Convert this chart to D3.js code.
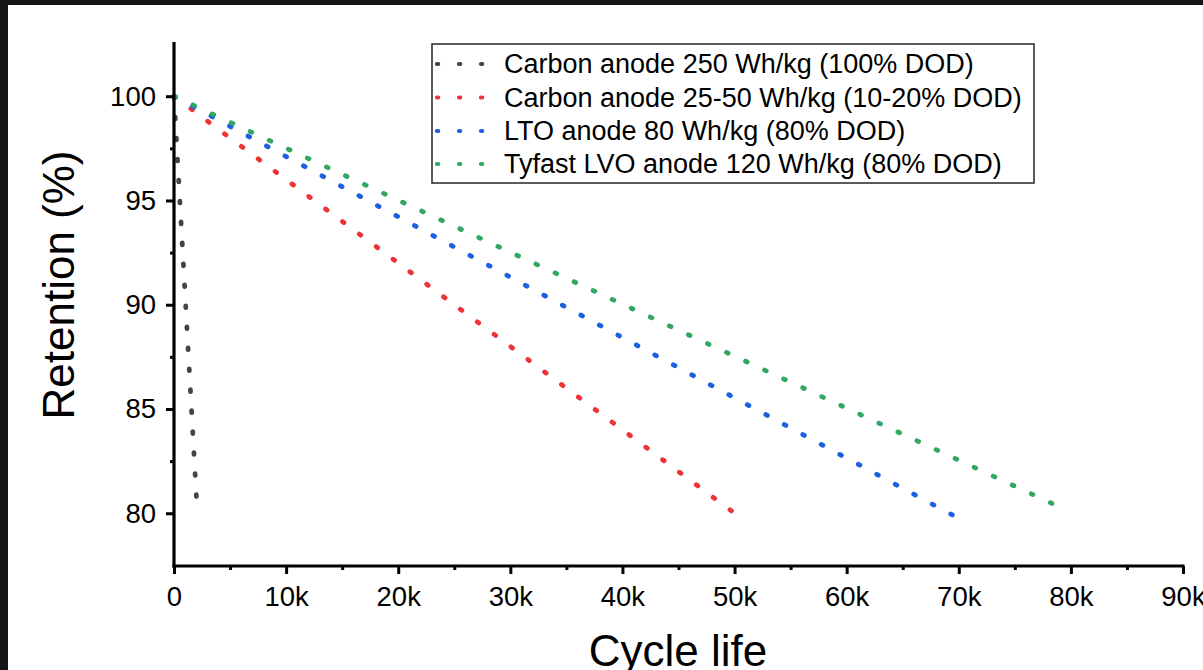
<!DOCTYPE html>
<html>
<head>
<meta charset="utf-8">
<script src="https://cdn.jsdelivr.net/npm/d3@7"></script>
<style>
  html, body { margin: 0; padding: 0; background: #161616; }
  svg { display: block; }
  text { font-family: Arial, "Liberation Sans", sans-serif; fill: #000; }
</style>
</head>
<body>
<svg id="chart" width="1203" height="670"></svg>
<script>
// Series: cycle count vs. capacity retention (%), straight-line fade to end of life
const seriesNames = [
  "Carbon anode 250 Wh/kg (100% DOD)",
  "Carbon anode 25-50 Wh/kg (10-20% DOD)",
  "LTO anode 80 Wh/kg (80% DOD)",
  "Tyfast LVO anode 120 Wh/kg (80% DOD)"
];
const seriesColors = ["#444444", "#ee3236", "#1c5fe2", "#30a862"];
const carbonHighCycles = [0, 2000];
const carbonHighRetention = [100, 80.75];
const carbonLowCycles = [0, 50000];
const carbonLowRetention = [100, 80.0];
const ltoCycles = [0, 70000];
const ltoRetention = [100, 79.75];
const lvoCycles = [0, 78600];
const lvoRetention = [100, 80.4];

const xTicks = [0, 10000, 20000, 30000, 40000, 50000, 60000, 70000, 80000, 90000];
const xTickLabels = ["0", "10k", "20k", "30k", "40k", "50k", "60k", "70k", "80k", "90k"];
const xMinorTicks = [5000, 15000, 25000, 35000, 45000, 55000, 65000, 75000, 85000];
const yTicks = [80, 85, 90, 95, 100];
const yMinorTicks = [82.5, 87.5, 92.5, 97.5];

const seriesCycles = [carbonHighCycles, carbonLowCycles, ltoCycles, lvoCycles];
const seriesRetention = [carbonHighRetention, carbonLowRetention, ltoRetention, lvoRetention];
const series = seriesNames.map((name, i) => ({
  name,
  color: seriesColors[i],
  points: seriesCycles[i].map((c, j) => ({ x: c, y: seriesRetention[i][j] }))
}));

const svg = d3.select("#chart");

// white page area inside the dark frame
svg.append("rect").attr("x", 8).attr("y", 5).attr("width", 1195).attr("height", 665).attr("fill", "#fff");

const x = d3.scaleLinear().domain([0, 90000]).range([174, 1183]);
const y = d3.scaleLinear().domain([77.47, 102.6]).range([566, 42]);

const line = d3.line().x(d => x(d.x)).y(d => y(d.y));

// dotted series lines
const plot = svg.append("g");
series.forEach(s => {
  plot.append("path")
    .datum(s.points)
    .attr("d", line)
    .attr("fill", "none")
    .attr("stroke", s.color)
    .attr("stroke-width", 4.8)
    .attr("stroke-linecap", "round")
    .attr("stroke-dasharray", "1.8 19.2");
});

// axes
const xAxis = svg.append("g").attr("transform", "translate(0,566)")
  .call(d3.axisBottom(x).tickValues(xTicks).tickFormat((d, i) => xTickLabels[i]).tickSize(8).tickSizeOuter(0).tickPadding(12));
const xMinor = svg.append("g").attr("transform", "translate(0,566)")
  .call(d3.axisBottom(x).tickValues(xMinorTicks).tickFormat("").tickSize(4).tickSizeOuter(0));
const yAxis = svg.append("g").attr("transform", "translate(174,0)")
  .call(d3.axisLeft(y).tickValues(yTicks).tickFormat(d3.format("d")).tickSize(8).tickSizeOuter(0).tickPadding(10));
const yMinor = svg.append("g").attr("transform", "translate(174,0)")
  .call(d3.axisLeft(y).tickValues(yMinorTicks).tickFormat("").tickSize(4).tickSizeOuter(0));

[xAxis, xMinor, yAxis, yMinor].forEach(g => {
  g.select(".domain").attr("stroke", "#000").attr("stroke-width", 3.2);
  g.selectAll(".tick line").attr("stroke", "#000").attr("stroke-width", 3);
  g.selectAll(".tick text").attr("font-size", 27.5).attr("font-family", "Arial, 'Liberation Sans', sans-serif").attr("fill", "#000");
});
xMinor.select(".domain").remove();
yMinor.select(".domain").remove();
xAxis.select(".domain").attr("d", "M172.4,0H1184.5");
yAxis.select(".domain").attr("d", "M0,42V567.6");

// axis titles
svg.append("text")
  .attr("x", 678).attr("y", 666)
  .attr("text-anchor", "middle")
  .attr("font-size", 44)
  .text("Cycle life");
svg.append("text")
  .attr("transform", "translate(74,285) rotate(-90)")
  .attr("text-anchor", "middle")
  .attr("font-size", 44)
  .text("Retention (%)");

// legend
const legend = svg.append("g");
legend.append("rect")
  .attr("x", 432).attr("y", 44).attr("width", 602).attr("height", 139)
  .attr("fill", "#fff").attr("stroke", "#333").attr("stroke-width", 1.6);
const rowY = [64, 97.5, 131, 164];
series.forEach((s, i) => {
  legend.append("line")
    .attr("x1", 437).attr("x2", 483)
    .attr("y1", rowY[i]).attr("y2", rowY[i])
    .attr("stroke", s.color)
    .attr("stroke-width", 4.2)
    .attr("stroke-linecap", "round")
    .attr("stroke-dasharray", "1.2 20.8");
  legend.append("text")
    .attr("x", 504).attr("y", rowY[i]).attr("dy", "0.35em")
    .attr("font-size", 27)
    .text(s.name);
});
</script>
</body>
</html>
